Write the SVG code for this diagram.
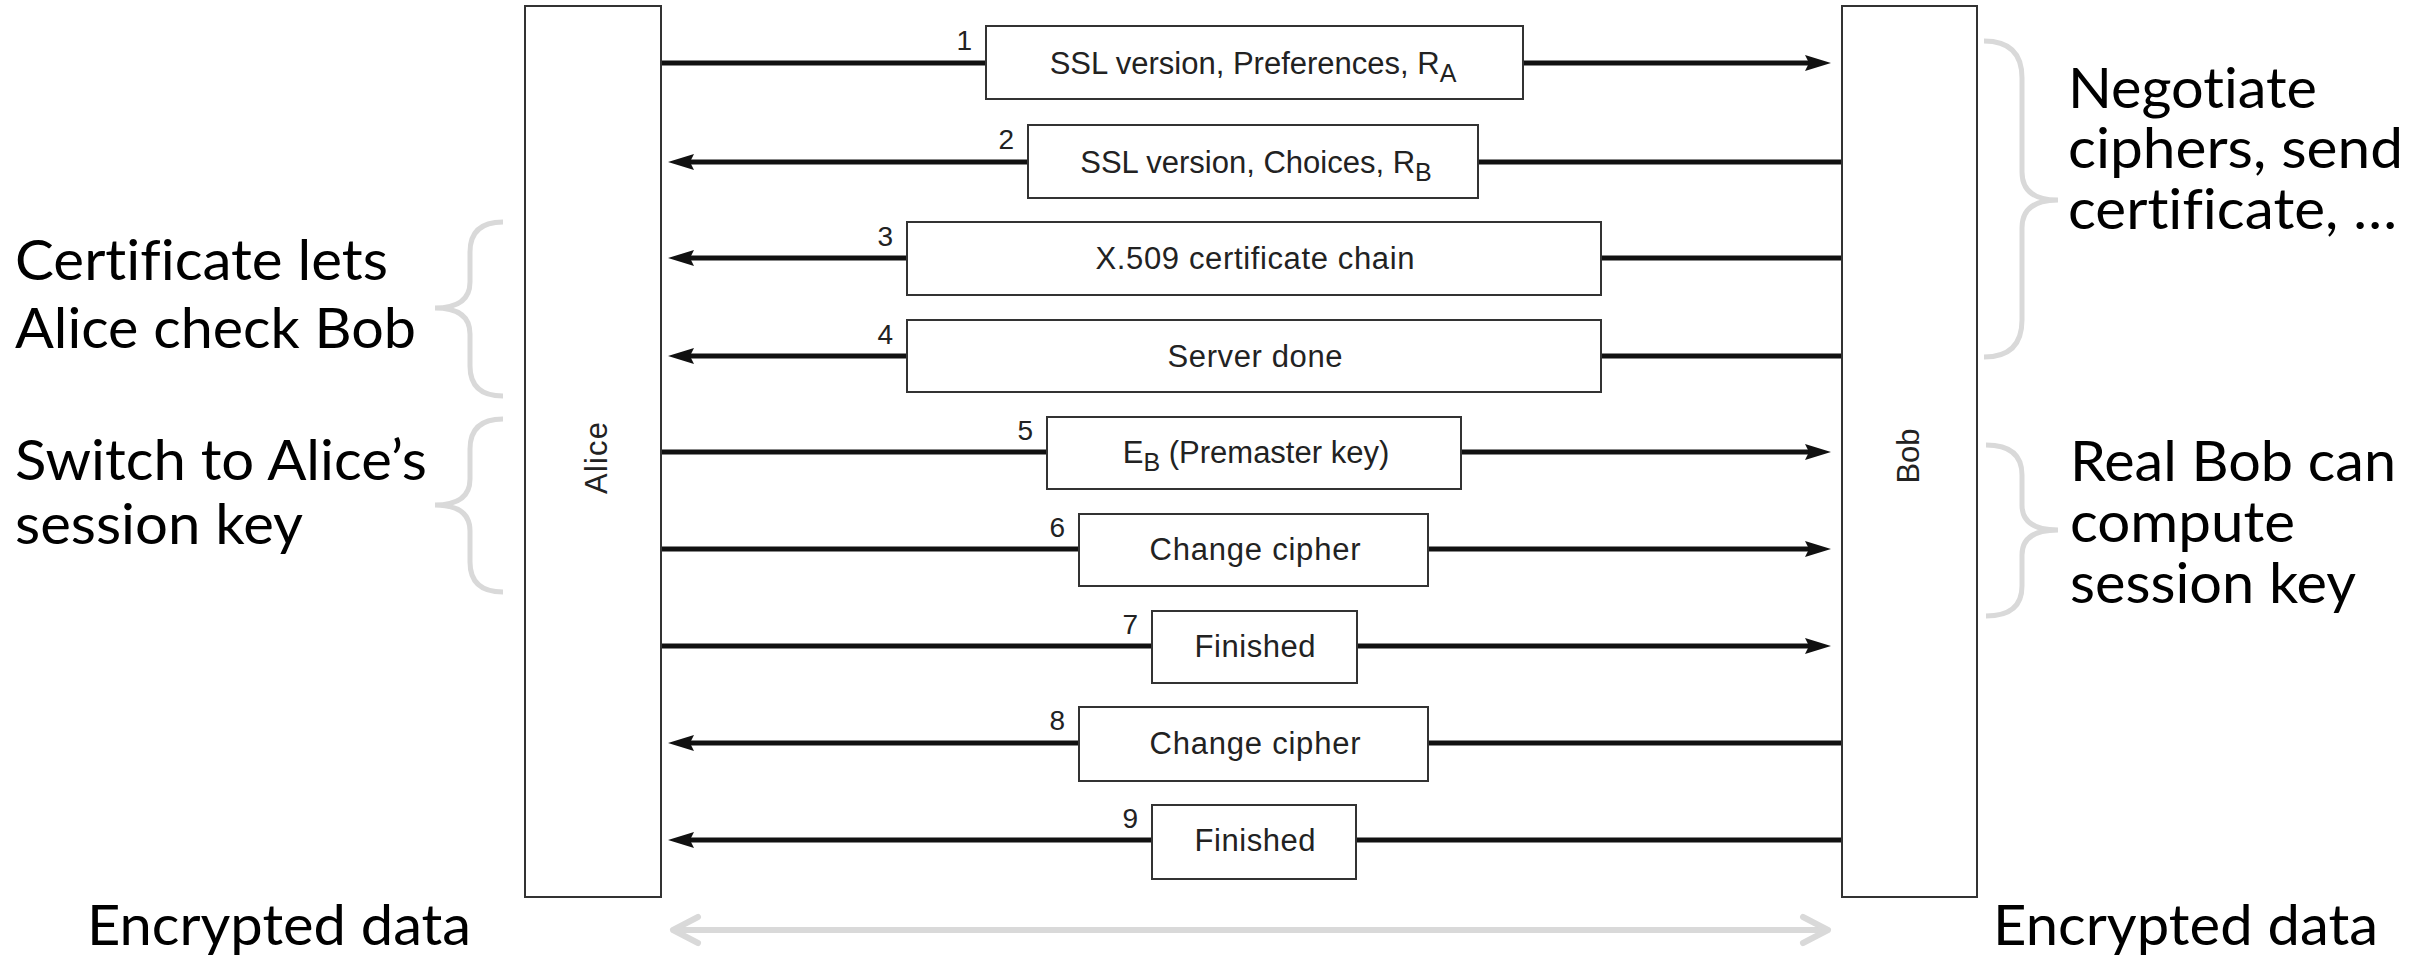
<svg xmlns="http://www.w3.org/2000/svg" width="2435" height="957" viewBox="0 0 2435 957">
<style>
.life{fill:#fff;stroke:#333;stroke-width:2}
.box{fill:#fff;stroke:#333;stroke-width:2}
.msg{font-family:"Liberation Sans",Arial,sans-serif;font-size:31px;fill:#222;text-anchor:middle}
.num{font-family:"Liberation Sans",Arial,sans-serif;font-size:28px;fill:#222;text-anchor:end}
.lbl{font-family:"Liberation Sans",Arial,sans-serif;font-size:31px;fill:#222;text-anchor:middle}
.wire{stroke:#111;stroke-width:5;fill:none}
.gray{stroke:#d9d9d9;stroke-width:6;fill:none;stroke-linecap:round;stroke-linejoin:round}
.brace{stroke:#d9d9d9;stroke-width:5;fill:none}
.note{font-family:Lato,"Open Sans",sans-serif;font-size:56px;fill:#000;font-variant-ligatures:none}
</style>
<defs>
<marker id="ah" markerUnits="userSpaceOnUse" viewBox="0 0 26 16" markerWidth="26" markerHeight="16" refX="4" refY="8" orient="auto">
<path d="M0,0 L26,8 L0,16 L4,8 Z" fill="#111"/>
</marker>
</defs>

<g id="connectors">
<line class="wire" x1="661" y1="63" x2="1809" y2="63" marker-end="url(#ah)"/>
<line class="wire" x1="1842" y1="162" x2="690" y2="162" marker-end="url(#ah)"/>
<line class="wire" x1="1842" y1="258" x2="690" y2="258" marker-end="url(#ah)"/>
<line class="wire" x1="1842" y1="356" x2="690" y2="356" marker-end="url(#ah)"/>
<line class="wire" x1="661" y1="452" x2="1809" y2="452" marker-end="url(#ah)"/>
<line class="wire" x1="661" y1="549" x2="1809" y2="549" marker-end="url(#ah)"/>
<line class="wire" x1="661" y1="646" x2="1809" y2="646" marker-end="url(#ah)"/>
<line class="wire" x1="1842" y1="743" x2="690" y2="743" marker-end="url(#ah)"/>
<line class="wire" x1="1842" y1="840" x2="690" y2="840" marker-end="url(#ah)"/>
<g id="encrypted-arrow">
<line class="gray" x1="674" y1="930" x2="1827" y2="930"/>
<polyline class="gray" points="698,917 673,930 698,943"/>
<polyline class="gray" points="1803,917 1828,930 1803,943"/>
</g>
</g>

<g id="alice">
<rect class="life" x="525" y="6" width="136" height="891"/>
<text class="lbl" transform="translate(607,458) rotate(-90)" textLength="72">Alice</text>
</g>
<g id="bob">
<rect class="life" x="1842" y="6" width="135" height="891"/>
<text class="lbl" transform="translate(1919,456) rotate(-90)" textLength="55">Bob</text>
</g>

<g id="msg1">
<rect class="box" x="986" y="26" width="537" height="73"/>
<text class="num" x="972" y="50">1</text>
<text class="msg" x="1253" y="74">SSL version, Preferences, R<tspan font-size="25" dy="8">A</tspan></text>
</g>
<g id="msg2">
<rect class="box" x="1028" y="125" width="450" height="73"/>
<text class="num" x="1014" y="149">2</text>
<text class="msg" x="1256" y="173">SSL version, Choices, R<tspan font-size="25" dy="8">B</tspan></text>
</g>
<g id="msg3">
<rect class="box" x="907" y="222" width="694" height="73"/>
<text class="num" x="893" y="246">3</text>
<text class="msg" x="1255" y="269" textLength="319">X.509 certificate chain</text>
</g>
<g id="msg4">
<rect class="box" x="907" y="320" width="694" height="72"/>
<text class="num" x="893" y="344">4</text>
<text class="msg" x="1255" y="367" textLength="175">Server done</text>
</g>
<g id="msg5">
<rect class="box" x="1047" y="417" width="414" height="72"/>
<text class="num" x="1033" y="440">5</text>
<text class="msg" x="1256" y="463">E<tspan font-size="25" dy="8">B</tspan><tspan dy="-8"> (Premaster key)</tspan></text>
</g>
<g id="msg6">
<rect class="box" x="1079" y="514" width="349" height="72"/>
<text class="num" x="1065" y="537">6</text>
<text class="msg" x="1255" y="560" textLength="211">Change cipher</text>
</g>
<g id="msg7">
<rect class="box" x="1152" y="611" width="205" height="72"/>
<text class="num" x="1138" y="634">7</text>
<text class="msg" x="1255" y="657" textLength="121">Finished</text>
</g>
<g id="msg8">
<rect class="box" x="1079" y="707" width="349" height="74"/>
<text class="num" x="1065" y="730">8</text>
<text class="msg" x="1255" y="754" textLength="211">Change cipher</text>
</g>
<g id="msg9">
<rect class="box" x="1152" y="805" width="204" height="74"/>
<text class="num" x="1138" y="828">9</text>
<text class="msg" x="1255" y="851" textLength="121">Finished</text>
</g>

<g id="note-cert">
<path class="brace" d="M503,222 Q470,222 470,252 L470,282 Q470,308 435,308 Q470,308 470,334 L470,366 Q470,396 503,396"/>
<text class="note" x="15" y="280" textLength="373" lengthAdjust="spacingAndGlyphs">Certificate lets</text>
<text class="note" x="15" y="348" textLength="401" lengthAdjust="spacingAndGlyphs">Alice check Bob</text>
</g>
<g id="note-switch">
<path class="brace" d="M503,419 Q470,419 470,449 L470,479 Q470,505 435,505 Q470,505 470,531 L470,562 Q470,592 503,592"/>
<text class="note" x="15" y="480" textLength="412" lengthAdjust="spacingAndGlyphs">Switch to Alice’s</text>
<text class="note" x="15" y="544" textLength="288" lengthAdjust="spacingAndGlyphs">session key</text>
</g>
<g id="note-negotiate">
<path class="brace" d="M1984,41 Q2022,41 2022,78 L2022,172 Q2022,200 2058,200 Q2022,200 2022,228 L2022,320 Q2022,357 1984,357"/>
<text class="note" x="2068" y="108" textLength="249" lengthAdjust="spacingAndGlyphs">Negotiate</text>
<text class="note" x="2068" y="168" textLength="335" lengthAdjust="spacingAndGlyphs">ciphers, send</text>
<text class="note" x="2068" y="229" textLength="329" lengthAdjust="spacingAndGlyphs">certificate, …</text>
</g>
<g id="note-realbob">
<path class="brace" d="M1986,445 Q2022,445 2022,475 L2022,505 Q2022,530 2058,530 Q2022,530 2022,555 L2022,586 Q2022,616 1986,616"/>
<text class="note" x="2070" y="481" textLength="326" lengthAdjust="spacingAndGlyphs">Real Bob can</text>
<text class="note" x="2070" y="542" textLength="225" lengthAdjust="spacingAndGlyphs">compute</text>
<text class="note" x="2070" y="603" textLength="286" lengthAdjust="spacingAndGlyphs">session key</text>
</g>
<g id="note-encrypted">
<text class="note" x="87" y="945" textLength="384" lengthAdjust="spacingAndGlyphs">Encrypted data</text>
<text class="note" x="1993" y="945" textLength="385" lengthAdjust="spacingAndGlyphs">Encrypted data</text>
</g>
</svg>
